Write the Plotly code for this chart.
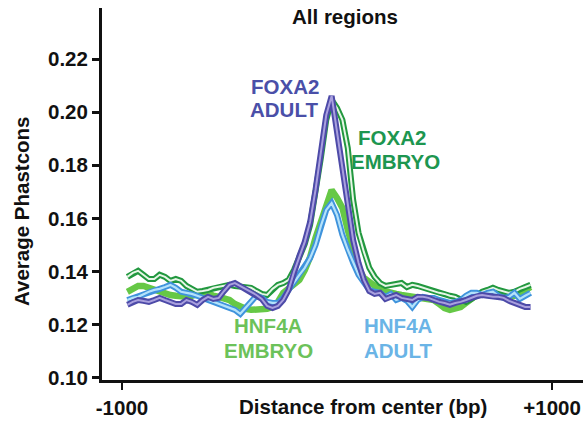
import plotly.graph_objects as go

# distance from center (bp)
distance = [-975, -950, -925, -900, -875, -850, -825, -800, -775, -750,
            -725, -700, -675, -650, -625, -600, -575, -550, -525, -500,
            -475, -450, -425, -400, -375, -350, -325, -300, -275, -250,
            -225, -200, -175, -150, -125, -100, -75, -50, -25, 0,
            25, 50, 75, 100, 125, 150, 175, 200, 225, 250,
            275, 300, 325, 350, 375, 400, 425, 450, 475, 500,
            525, 550, 575, 600, 625, 650, 675, 700, 725, 750,
            775, 800, 825, 850, 875, 900]

foxa2_adult = [0.1275, 0.1286, 0.1293, 0.1290, 0.1286, 0.1293, 0.1301, 0.1293, 0.1286, 0.1278,
               0.1278, 0.1293, 0.1286, 0.1275, 0.1293, 0.1305, 0.1297, 0.1301, 0.1327, 0.1350,
               0.1357, 0.1346, 0.1335, 0.1324, 0.1312, 0.1297, 0.1271, 0.1263, 0.1271, 0.1293,
               0.1331, 0.1399, 0.1459, 0.1512, 0.1587, 0.1707, 0.1850, 0.1989, 0.2061, 0.1926,
               0.1783, 0.1651, 0.1519, 0.1433, 0.1369, 0.1327, 0.1316, 0.1320, 0.1297, 0.1305,
               0.1312, 0.1301, 0.1297, 0.1293, 0.1305, 0.1305, 0.1301, 0.1293, 0.1286, 0.1282,
               0.1275, 0.1282, 0.1286, 0.1293, 0.1301, 0.1309, 0.1312, 0.1309, 0.1305, 0.1305,
               0.1301, 0.1290, 0.1282, 0.1275, 0.1267, 0.1267]

foxa2_embryo = [0.1380, 0.1395, 0.1403, 0.1388, 0.1372, 0.1372, 0.1388, 0.1380, 0.1365, 0.1372,
                0.1365, 0.1346, 0.1335, 0.1324, 0.1327, 0.1331, 0.1339, 0.1342, 0.1346, 0.1350,
                0.1346, 0.1342, 0.1342, 0.1339, 0.1327, 0.1316, 0.1312, 0.1335, 0.1350, 0.1357,
                0.1369, 0.1406, 0.1451, 0.1504, 0.1576, 0.1688, 0.1828, 0.1971, 0.2046, 0.2016,
                0.1971, 0.1865, 0.1670, 0.1546, 0.1474, 0.1414, 0.1380, 0.1357, 0.1346, 0.1350,
                0.1354, 0.1357, 0.1342, 0.1350, 0.1346, 0.1339, 0.1331, 0.1324, 0.1320, 0.1316,
                0.1309, 0.1305, 0.1293, 0.1286, 0.1297, 0.1312, 0.1324, 0.1331, 0.1339, 0.1331,
                0.1324, 0.1320, 0.1324, 0.1335, 0.1342, 0.1350]

hnf4a_embryo = [0.1324, 0.1335, 0.1346, 0.1346, 0.1339, 0.1331, 0.1324, 0.1316, 0.1312, 0.1309,
                0.1305, 0.1305, 0.1309, 0.1316, 0.1324, 0.1320, 0.1309, 0.1305, 0.1301, 0.1293,
                0.1278, 0.1267, 0.1260, 0.1256, 0.1256, 0.1256, 0.1260, 0.1267, 0.1286, 0.1320,
                0.1335, 0.1350, 0.1369, 0.1406, 0.1455, 0.1527, 0.1587, 0.1662, 0.1707, 0.1677,
                0.1640, 0.1557, 0.1482, 0.1414, 0.1376, 0.1357, 0.1346, 0.1331, 0.1324, 0.1320,
                0.1316, 0.1312, 0.1309, 0.1305, 0.1301, 0.1297, 0.1293, 0.1293, 0.1278, 0.1263,
                0.1256, 0.1260, 0.1267, 0.1282, 0.1301, 0.1312, 0.1320, 0.1320, 0.1320, 0.1320,
                0.1316, 0.1309, 0.1309, 0.1316, 0.1331, 0.1342]

hnf4a_adult = [0.1293, 0.1301, 0.1305, 0.1316, 0.1324, 0.1331, 0.1335, 0.1342, 0.1350, 0.1339,
               0.1324, 0.1320, 0.1316, 0.1309, 0.1301, 0.1293, 0.1286, 0.1278, 0.1271, 0.1263,
               0.1256, 0.1241, 0.1263, 0.1286, 0.1309, 0.1301, 0.1286, 0.1282, 0.1282, 0.1301,
               0.1331, 0.1361, 0.1388, 0.1414, 0.1451, 0.1500, 0.1572, 0.1632, 0.1658, 0.1613,
               0.1538, 0.1482, 0.1433, 0.1388, 0.1357, 0.1331, 0.1324, 0.1320, 0.1305, 0.1316,
               0.1293, 0.1301, 0.1290, 0.1267, 0.1293, 0.1305, 0.1301, 0.1301, 0.1293, 0.1286,
               0.1282, 0.1286, 0.1293, 0.1309, 0.1320, 0.1320, 0.1312, 0.1320, 0.1324, 0.1309,
               0.1301, 0.1305, 0.1320, 0.1297, 0.1309, 0.1320]

y_ticks = [0.10, 0.12, 0.14, 0.16, 0.18, 0.20, 0.22]
x_ticks = [-1000, 1000]
x_tick_labels = ["-1000", "+1000"]

FONT = "Liberation Sans, Arial, Helvetica, sans-serif"

# (values, outer colour, inner colour, outer width, inner width)
series = [
    (hnf4a_embryo, "#66c846", "#80d464", 6.5, 0),
    (foxa2_embryo, "#22983f", "#e6f6e6", 6, 2),
    (hnf4a_adult, "#3f93dc", "#b4e2fa", 6, 2.2),
    (foxa2_adult, "#4d4aa8", "#a9a0de", 6, 2),
]

fig = go.Figure()
for vals, c_out, c_in, w_out, w_in in series:
    fig.add_trace(go.Scatter(x=distance, y=vals, mode="lines",
                             line=dict(color=c_out, width=w_out),
                             hoverinfo="skip", showlegend=False))
    if w_in > 0:
        fig.add_trace(go.Scatter(x=distance, y=vals, mode="lines",
                                 line=dict(color=c_in, width=w_in),
                                 hoverinfo="skip", showlegend=False))

L, R, T, B = 102, 583, 8, 380
W, H = 583, 424


def px(xp, yp):
    return (xp - L) / (R - L), (B - yp) / (B - T)


def label(text, xp, yp, color, size=20.5, angle=0):
    xx, yy = px(xp, yp)
    fig.add_annotation(text="<b>" + text + "</b>", x=xx, y=yy, xref="paper", yref="paper",
                       xanchor="center", yanchor="middle", showarrow=False,
                       textangle=angle,
                       font=dict(family=FONT, size=size, color=color))


label("All regions", 345, 17, "#111111")
label("FOXA2", 285, 86, "#4a4fa8")
label("ADULT", 284, 110, "#4a4fa8")
label("FOXA2", 392, 137, "#1d9650")
label("EMBRYO", 395, 161, "#1d9650")
label("HNF4A", 268, 325, "#6cc25a")
label("EMBRYO", 268, 350, "#6cc25a")
label("HNF4A", 398, 325, "#6ab4e6")
label("ADULT", 398, 350, "#6ab4e6")
label("Distance from center (bp)", 363, 406, "#111111")
label("Average Phastcons", 22, 211, "#111111", angle=-90)

fig.update_layout(
    width=W, height=H,
    margin=dict(l=L, r=W - R, t=T, b=H - B),
    paper_bgcolor="white", plot_bgcolor="white",
    font=dict(family=FONT, size=20, color="#111111"),
)
fig.update_xaxes(range=[-1093, 1144], tickvals=x_ticks, ticktext=x_tick_labels,
                 showline=True, linecolor="#111111", linewidth=3,
                 ticks="outside", ticklen=7, tickwidth=2, tickcolor="#111111",
                 showgrid=False, zeroline=False,
                 tickfont=dict(family=FONT, size=20.5, color="#111111", weight="bold"))
fig.update_yaxes(range=[0.0992, 0.2392], tickvals=y_ticks, tickformat=".2f",
                 showline=True, linecolor="#111111", linewidth=3,
                 ticks="outside", ticklen=7, tickwidth=3, tickcolor="#111111",
                 showgrid=False, zeroline=False,
                 tickfont=dict(family=FONT, size=20.5, color="#111111", weight="bold"))

fig.write_html("out.html")
